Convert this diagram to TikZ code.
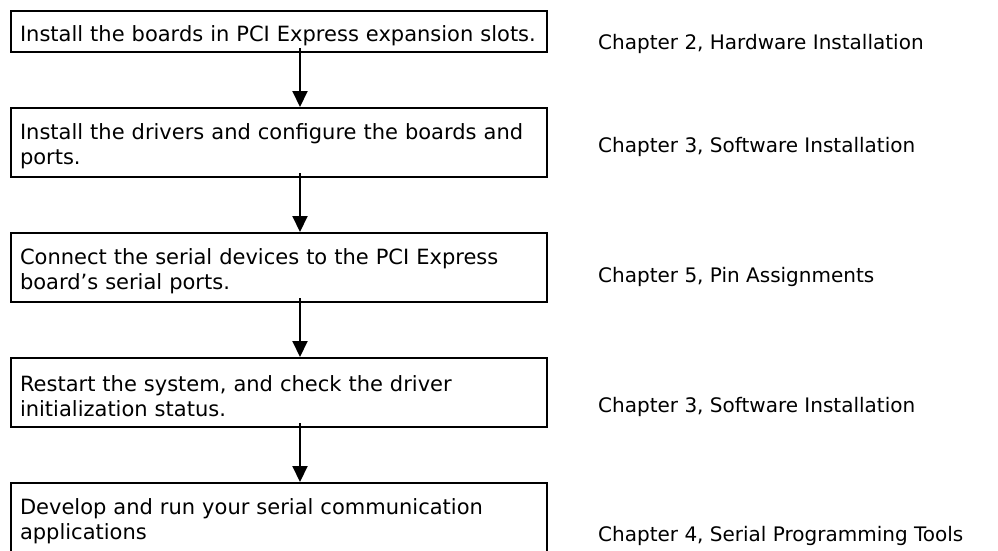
\documentclass[tikz,border=0pt]{standalone}
\usepackage{fontspec}
\setmainfont{DejaVu Sans}
\usetikzlibrary{positioning,arrows.meta}

\begin{document}
\begin{tikzpicture}[
          x=1pt, y=-1pt,
          stepbox/.style={draw, rectangle, line width=2pt, minimum width=536pt,
            minimum height=69pt, text width=518pt, inner xsep=9pt, align=left,
            font=\fontsize{21}{25}\selectfont,
            execute at begin node={\rule{0pt}{24pt}}},
          chapter/.style={anchor=west, inner sep=0pt, font=\fontsize{20}{24}\selectfont},
          flow/.style={line width=2pt, -{Triangle[width=15pt,length=16pt]}},
          node distance=54pt
        ]
        \useasboundingbox (0,0) rectangle (998,550);

        % Steps (left column)
        \node[stepbox, minimum height=41pt, execute at begin node={}, anchor=north west] (b1) at (10,10)
          {Install the boards in PCI Express expansion slots.};
        \node[stepbox, below=of b1] (b2)
          {Install the drivers and configure the boards and\\ports.};
        \node[stepbox, below=of b2] (b3)
          {Connect the serial devices to the PCI Express\\board’s serial ports.};
        \node[stepbox, below=of b3] (b4)
          {Restart the system, and check the driver\\initialization status.};
        \node[stepbox, below=of b4] (b5)
          {Develop and run your serial communication\\applications};

        % Chapter references (right column)
        \node[chapter] (c1) at (598,44) {Chapter 2, Hardware Installation};
        \node[chapter] (c2) at (598,147) {Chapter 3, Software Installation};
        \node[chapter] (c3) at (598,277) {Chapter 5, Pin Assignments};
        \node[chapter] (c4) at (598,407) {Chapter 3, Software Installation};
        \node[chapter] (c5) at (598,536) {Chapter 4, Serial Programming Tools};

        % Arrows between steps
        \draw[flow] ([xshift=21pt,yshift=5pt]b1.south) -- ([xshift=21pt]b2.north);
        \draw[flow] ([xshift=21pt,yshift=5pt]b2.south) -- ([xshift=21pt]b3.north);
        \draw[flow] ([xshift=21pt,yshift=5pt]b3.south) -- ([xshift=21pt]b4.north);
        \draw[flow] ([xshift=21pt,yshift=5pt]b4.south) -- ([xshift=21pt]b5.north);

      \end{tikzpicture}
\end{document}
